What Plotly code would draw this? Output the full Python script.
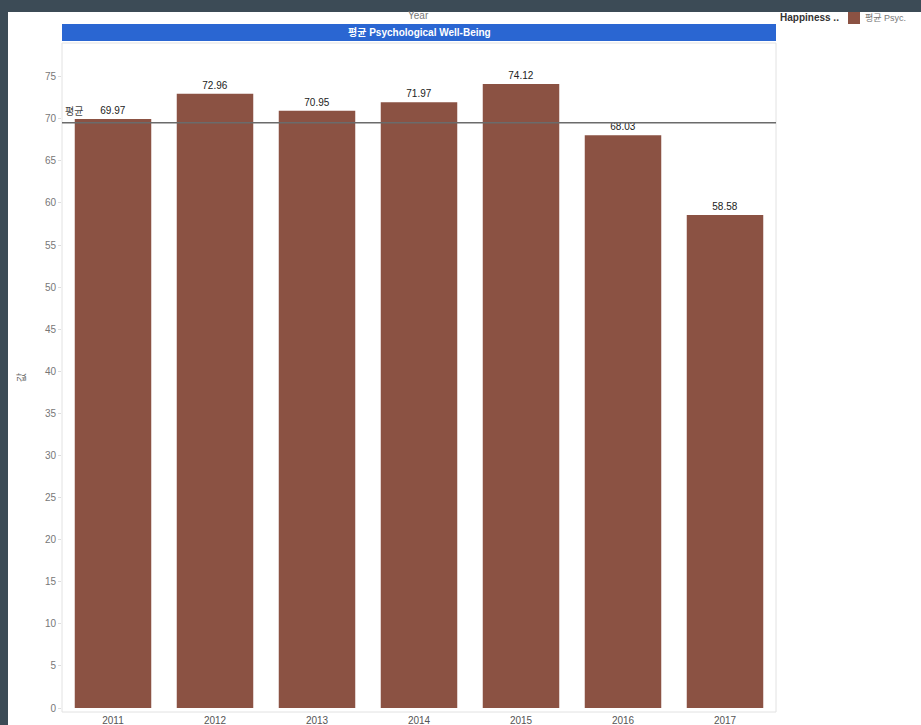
import plotly.graph_objects as go

# Yearly average psychological well-being scores
years = ["2011", "2012", "2013", "2014", "2015", "2016", "2017"]
values = [69.97, 72.96, 70.95, 71.97, 74.12, 68.03, 58.58]
y_ticks = list(range(0, 80, 5))

W, H = 921, 725
FONT = "Liberation Sans, Arial, Noto Sans CJK KR, sans-serif"
BAR_COLOR = "#8b5243"
HEADER_BLUE = "#2a66d2"
FRAME_DARK = "#3c4b56"

# plot area in pixels (left, right, top, bottom)
PX_L, PX_R, PX_T, PX_B = 62, 776, 43, 708
dom_x = [PX_L / W, PX_R / W]
dom_y = [1 - PX_B / H, 1 - PX_T / H]

avg = sum(values) / len(values)

fig = go.Figure()
fig.add_trace(go.Bar(
    x=years,
    y=values,
    marker=dict(color=BAR_COLOR, line=dict(width=0)),
    width=0.75,
    text=values,
    texttemplate="%{y:.2f}",
    textposition="outside",
    textfont=dict(size=10, color="#222", family=FONT),
    cliponaxis=False,
    showlegend=False,
    hoverinfo="x+y",
))

def px(x):
    return x / W

def py(y):
    return 1 - y / H

shapes = [
    # dark window frame: top strip and left strip
    dict(type="rect", xref="paper", yref="paper", x0=0, x1=1, y0=py(12), y1=1,
         fillcolor=FRAME_DARK, line=dict(width=0), layer="above"),
    dict(type="rect", xref="paper", yref="paper", x0=0, x1=px(8), y0=0, y1=1,
         fillcolor=FRAME_DARK, line=dict(width=0), layer="above"),
    # column header band
    dict(type="rect", xref="paper", yref="paper", x0=px(62), x1=px(776), y0=py(41), y1=py(24),
         fillcolor=HEADER_BLUE, line=dict(width=0)),
    # pane border
    dict(type="rect", xref="paper", yref="paper", x0=dom_x[0], x1=dom_x[1], y0=py(712), y1=dom_y[1],
         fillcolor="rgba(0,0,0,0)", line=dict(color="#e2e2e2", width=1)),
    # average reference line
    dict(type="line", xref="paper", yref="y", x0=dom_x[0], x1=dom_x[1], y0=avg, y1=avg,
         line=dict(color="#6b6b6b", width=1.5), layer="above"),
    # legend swatch
    dict(type="rect", xref="paper", yref="paper", x0=px(848), x1=px(860), y0=py(24), y1=py(12),
         fillcolor=BAR_COLOR, line=dict(width=0), layer="above"),
]

annotations = [
    dict(text="Year", xref="paper", yref="paper", x=px(418), y=py(15), showarrow=False,
         font=dict(size=10, color="#777", family=FONT), xanchor="center", yanchor="middle"),
    dict(text="<b>평균 Psychological Well-Being</b>", xref="paper", yref="paper",
         x=px(419), y=py(32.5), showarrow=False,
         font=dict(size=10, color="white", family=FONT), xanchor="center", yanchor="middle"),
    dict(text="평균", xref="paper", yref="y", x=px(63), y=avg, showarrow=False,
         font=dict(size=10, color="#444", family=FONT), xanchor="left", yanchor="bottom",
         yshift=4),
    dict(text="값", xref="paper", yref="paper", x=px(22), y=py(378), showarrow=False,
         textangle=-90, font=dict(size=10, color="#666", family=FONT),
         xanchor="center", yanchor="middle"),
    dict(text="<b>Happiness ..</b>", xref="paper", yref="paper", x=px(778), y=py(18),
         showarrow=False, font=dict(size=10, color="#333", family=FONT),
         xanchor="left", yanchor="middle"),
    dict(text="평균 Psyc.", xref="paper", yref="paper", x=px(863), y=py(18),
         showarrow=False, font=dict(size=9, color="#777", family=FONT),
         xanchor="left", yanchor="middle"),
]

fig.update_layout(
    width=W,
    height=H,
    margin=dict(l=0, r=0, t=0, b=0),
    paper_bgcolor="white",
    plot_bgcolor="white",
    font=dict(family=FONT),
    shapes=shapes,
    annotations=annotations,
    xaxis=dict(
        domain=dom_x,
        type="category",
        automargin=False,
        showgrid=False,
        showline=False,
        ticks="",
        tickfont=dict(size=10, color="#555", family=FONT),
        ticklabelstandoff=5,
    ),
    yaxis=dict(
        domain=dom_y,
        range=[0, 79],
        automargin=False,
        tickvals=y_ticks,
        showgrid=False,
        zeroline=False,
        showline=False,
        ticks="outside",
        ticklen=3,
        tickcolor="#ddd",
        tickfont=dict(size=10, color="#777", family=FONT),
    ),
)

fig.write_html("out.html")
